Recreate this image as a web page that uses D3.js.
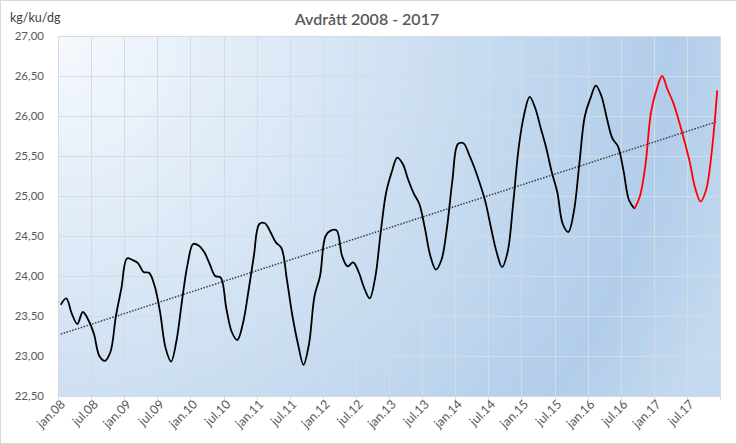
<!DOCTYPE html>
<html><head><meta charset="utf-8">
<script src="https://cdn.jsdelivr.net/npm/d3@7"></script>
<style>html,body{margin:0;padding:0;background:#fff;}svg{display:block;}</style>
</head><body>
<svg id="chart" width="737" height="444"></svg>
<script>
// ---- data ----
const title = "Avdrått 2008 - 2017";
const unitLabel = "kg/ku/dg";
const years = ["08","09","10","11","12","13","14","15","16","17"];
const monthNames = ["jan","feb","mar","apr","mai","jun","jul","aug","sep","okt","nov","des"];
const categories = years.flatMap(y => monthNames.map(m => m + "." + y));
const tickLabels = years.flatMap(y => ["jan." + y, "jul." + y]);
const values = [
  // 2008
  23.64, 23.72, 23.53, 23.40, 23.55, 23.45, 23.28, 23.00, 22.94, 23.05, 23.50, 23.85,
  // 2009
  24.22, 24.20, 24.16, 24.05, 24.04, 23.88, 23.55, 23.10, 22.93, 23.20, 23.70, 24.15,
  // 2010
  24.40, 24.38, 24.30, 24.15, 24.00, 23.98, 23.60, 23.30, 23.20, 23.40, 23.80, 24.25,
  // 2011
  24.65, 24.66, 24.55, 24.42, 24.35, 23.95, 23.50, 23.15, 22.89, 23.15, 23.75, 24.00,
  // 2012
  24.50, 24.57, 24.57, 24.25, 24.12, 24.17, 24.05, 23.85, 23.72, 23.98, 24.55, 25.05,
  // 2013
  25.30, 25.48, 25.40, 25.20, 25.03, 24.90, 24.60, 24.25, 24.08, 24.20, 24.60, 25.20,
  // 2014
  25.65, 25.66, 25.52, 25.35, 25.15, 24.92, 24.60, 24.30, 24.11, 24.30, 24.90, 25.60,
  // 2015
  26.02, 26.24, 26.10, 25.85, 25.60, 25.30, 25.05, 24.65, 24.55, 24.80, 25.40, 26.00,
  // 2016
  26.22, 26.38, 26.25, 25.97, 25.72, 25.62, 25.32, 24.95, 24.84, 25.00, 25.40, 26.05,
  // 2017
  26.33, 26.50, 26.33, 26.17, 25.95, 25.70, 25.43, 25.10, 24.93, 25.08, 25.55, 26.32
];
const redStart = "sep.16";   // latest period shown in red
const yTicks = [22.5, 23, 23.5, 24, 24.5, 25, 25.5, 26, 26.5, 27];

// ---- layout ----
const svg = d3.select("#chart");
const W = 737, H = 444;
const plot = {left: 58, right: 720, top: 36, bottom: 396};
const textColor = "#595959";
const font = "Lato, 'Open Sans', sans-serif";

svg.append("rect").attr("x", 0.5).attr("y", 0.5).attr("width", W - 1).attr("height", H - 1)
  .attr("fill", "#fff").attr("stroke", "#d9d9d9");

const defs = svg.append("defs");
const grad = defs.append("radialGradient").attr("id", "bg")
  .attr("gradientUnits", "userSpaceOnUse")
  .attr("cx", plot.left).attr("cy", plot.top).attr("r", 720)
  .attr("fx", plot.left).attr("fy", plot.top);
grad.append("stop").attr("offset", "0").attr("stop-color", "#f6f9fd");
grad.append("stop").attr("offset", "0.55").attr("stop-color", "#c9ddf1");
grad.append("stop").attr("offset", "0.85").attr("stop-color", "#b2cdea");
grad.append("stop").attr("offset", "1").attr("stop-color", "#c4daef");

const x = d3.scaleBand().domain(categories).range([plot.left, plot.right]).padding(0);
const y = d3.scaleLinear().domain([22.5, 27]).range([plot.bottom, plot.top]);
const cx = c => x(c) + x.bandwidth() / 2;

svg.append("rect").attr("x", plot.left).attr("y", plot.top)
  .attr("width", plot.right - plot.left).attr("height", plot.bottom - plot.top)
  .attr("fill", "url(#bg)");

// gridlines
const gridColor = "#d3dbe4";
svg.append("g").selectAll("line").data(yTicks).join("line")
  .attr("x1", plot.left).attr("x2", plot.right)
  .attr("y1", d => Math.round(y(d)) + 0.5).attr("y2", d => Math.round(y(d)) + 0.5)
  .attr("stroke", gridColor).attr("stroke-width", 1);
const vCats = categories.filter((c, i) => i % 6 === 0);
const vPos = vCats.map(c => x(c)).concat([plot.right]);
svg.append("g").selectAll("line").data(vPos).join("line")
  .attr("x1", d => Math.round(d) + 0.5).attr("x2", d => Math.round(d) + 0.5)
  .attr("y1", plot.top).attr("y2", plot.bottom + 4)
  .attr("stroke", gridColor).attr("stroke-width", 1);

// y axis labels
const loc = d3.formatLocale({decimal: ",", thousands: " ", grouping: [3], currency: ["", ""]});
const fmt = loc.format(".2f");
svg.append("g").selectAll("text").data(yTicks).join("text")
  .attr("x", 44).attr("y", d => y(d) + 4)
  .attr("text-anchor", "end").attr("font-family", font).attr("font-size", 11.5)
  .attr("fill", textColor).text(d => fmt(d));

// x axis labels
svg.append("g").selectAll("text").data(tickLabels).join("text")
  .attr("transform", d => `translate(${cx(d) + 5},${plot.bottom + 9}) rotate(-45)`)
  .attr("text-anchor", "end").attr("font-family", font).attr("font-size", 12.5)
  .attr("fill", textColor).text(d => d);

// trend line (least squares over all monthly values)
const idx = d3.range(values.length);
const mx = d3.mean(idx), my = d3.mean(values);
const slope = d3.sum(idx, i => (i - mx) * (values[i] - my)) / d3.sum(idx, i => (i - mx) ** 2);
const icpt = my - slope * mx;
const trend = [0, values.length - 1].map(i => ({c: categories[i], v: icpt + slope * i}));
svg.append("path").datum(trend)
  .attr("d", d3.line().x(d => cx(d.c)).y(d => y(d.v)))
  .attr("fill", "none").attr("stroke", "#3a3f45").attr("stroke-width", 1.5)
  .attr("stroke-dasharray", "1.5 1.5");

// series
const pts = categories.map((c, i) => ({c, v: values[i]}));
const split = categories.indexOf(redStart);
const line = d3.line().x(d => cx(d.c)).y(d => y(d.v)).curve(d3.curveCatmullRom.alpha(0.5));
svg.append("path").datum(pts.slice(0, split + 1)).attr("d", line)
  .attr("fill", "none").attr("stroke", "#000").attr("stroke-width", 1.8).attr("stroke-linejoin", "round");
svg.append("path").datum(pts.slice(split)).attr("d", line)
  .attr("fill", "none").attr("stroke", "#ff0000").attr("stroke-width", 1.8).attr("stroke-linejoin", "round");

// titles
svg.append("text").attr("x", 367).attr("y", 25).attr("text-anchor", "middle")
  .attr("font-family", font).attr("font-size", 16).attr("font-weight", 600)
  .attr("fill", textColor).text(title);
svg.append("text").attr("x", 10).attr("y", 22)
  .attr("font-family", font).attr("font-size", 12.5)
  .attr("fill", "#404040").text(unitLabel);
</script>
</body></html>
